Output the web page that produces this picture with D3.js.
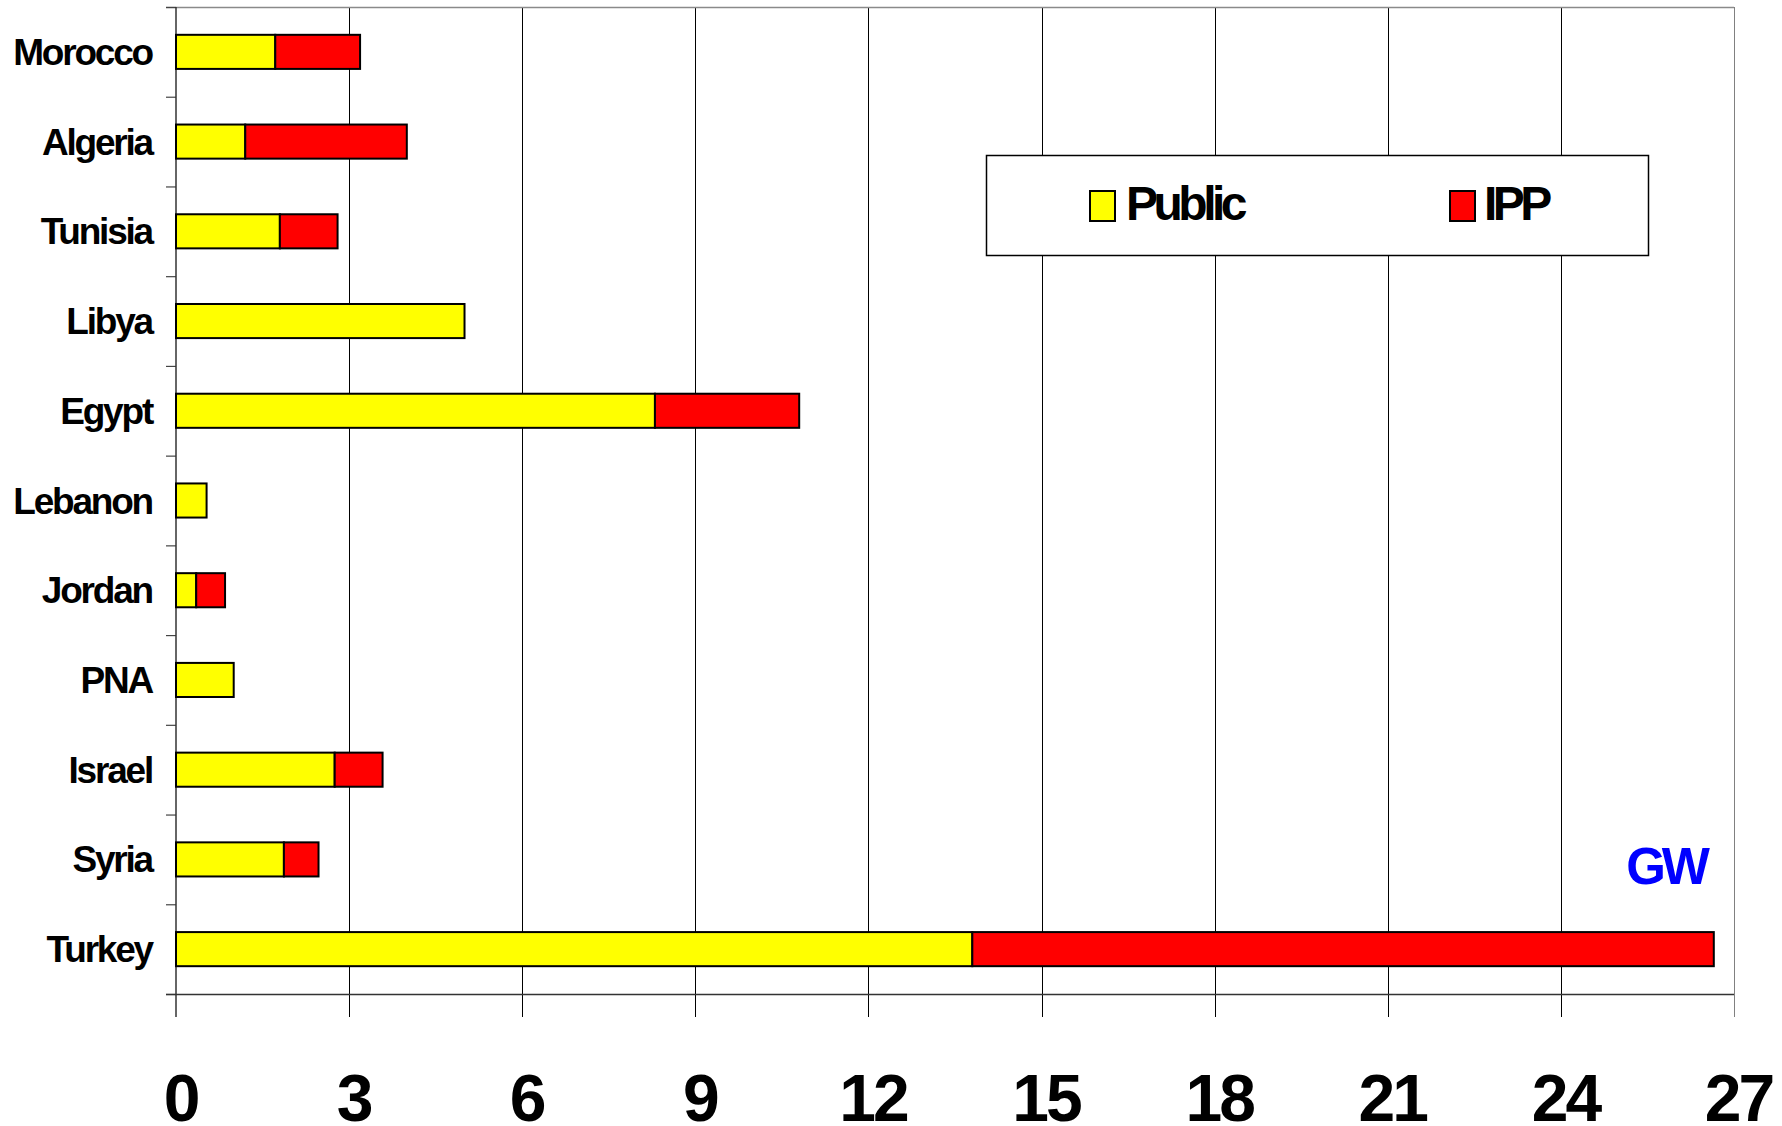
<!DOCTYPE html>
<html>
<head>
<meta charset="utf-8">
<script src="https://cdn.jsdelivr.net/npm/d3@7"></script>
<style>
  html, body { margin: 0; padding: 0; background: #fff; }
  svg { display: block; font-family: "Liberation Sans", Arial, sans-serif; }
</style>
</head>
<body>
<svg id="chart" width="1782" height="1126"></svg>
<script>
// ---- data ----
const countries = ["Morocco", "Algeria", "Tunisia", "Libya", "Egypt", "Lebanon", "Jordan", "PNA", "Israel", "Syria", "Turkey"];
const publicGW = [1.72, 1.2, 1.8, 5.0, 8.3, 0.53, 0.35, 1.0, 2.75, 1.87, 13.8];
const ippGW    = [1.47, 2.8, 1.0, 0.0, 2.5, 0.0, 0.5, 0.0, 0.83, 0.6, 12.85];
const seriesNames = ["Public", "IPP"];
const seriesColors = ["#FFFF00", "#FF0000"];
const xTicks = [0, 3, 6, 9, 12, 15, 18, 21, 24, 27];
const unitLabel = "GW";

// ---- layout ----
const plotLeft = 176, plotRight = 1734, plotTop = 7, plotBottom = 994;
const svg = d3.select("#chart");

const x = d3.scaleLinear().domain([0, 27]).range([plotLeft, plotRight]);
const y = d3.scaleBand().domain(countries).range([plotTop, plotBottom]).paddingInner(0.62).paddingOuter(0.31);
const yIdx = d3.scaleLinear().domain([0, countries.length]).range([plotTop, plotBottom]);

// gridlines (extend below axis as ticks)
svg.append("g").selectAll("line").data(xTicks.filter(d => d > 0)).join("line")
  .attr("x1", d => Math.round(x(d)) + 0.5).attr("x2", d => Math.round(x(d)) + 0.5)
  .attr("y1", plotTop).attr("y2", plotBottom + 23)
  .attr("stroke", d => d === 27 ? "#808080" : "#000").attr("stroke-width", 1);

// top border
svg.append("line").attr("x1", plotLeft - 10).attr("x2", plotRight).attr("y1", plotTop + 0.5).attr("y2", plotTop + 0.5)
  .attr("stroke", "#8a8a8a").attr("stroke-width", 1.5);

// y axis with ticks at category boundaries
const yAxis = svg.append("g").attr("transform", `translate(${plotLeft},0)`)
  .call(d3.axisLeft(yIdx).tickValues(d3.range(0, countries.length + 1)).tickFormat("").tickSize(10).tickSizeOuter(0));
yAxis.select(".domain").remove();
yAxis.selectAll(".tick line").attr("stroke", "#444").attr("stroke-width", 1.2);
svg.append("line").attr("x1", plotLeft).attr("x2", plotLeft).attr("y1", plotTop).attr("y2", plotBottom + 23)
  .attr("stroke", "#333").attr("stroke-width", 1.5);

// x axis line
svg.append("line").attr("x1", plotLeft - 10).attr("x2", plotRight).attr("y1", plotBottom + 0.5).attr("y2", plotBottom + 0.5)
  .attr("stroke", "#333").attr("stroke-width", 1.5);

// x tick labels
const xAxis = svg.append("g").attr("transform", `translate(0,${plotBottom})`)
  .call(d3.axisBottom(x).tickValues(xTicks).tickSize(0).tickPadding(0));
xAxis.select(".domain").remove();
xAxis.selectAll(".tick text")
  .attr("y", 127).attr("dy", 0).attr("dx", 4)
  .attr("fill", "#000")
  .style("font-size", "66px").style("font-weight", "bold")
  .style("font-family", "'Liberation Sans', Arial, sans-serif")
  .style("letter-spacing", "-3px");

// stacked bars
const stackData = countries.map((c, i) => ({ country: c, Public: publicGW[i], IPP: ippGW[i] }));
const stacked = d3.stack().keys(seriesNames)(stackData);
svg.append("g").selectAll("g").data(stacked).join("g")
  .attr("fill", (d, i) => seriesColors[i])
  .selectAll("rect").data(d => d.filter(s => s[1] - s[0] > 0)).join("rect")
  .attr("x", d => x(d[0]))
  .attr("y", d => y(d.data.country))
  .attr("width", d => x(d[1]) - x(d[0]))
  .attr("height", y.bandwidth())
  .attr("stroke", "#000").attr("stroke-width", 2);

// country labels
svg.append("g").selectAll("text").data(countries).join("text")
  .attr("x", 152)
  .attr("y", d => y(d) + y.bandwidth() / 2 + 13)
  .attr("text-anchor", "end")
  .style("font-size", "37px").style("font-weight", "bold")
  .style("letter-spacing", "-2.2px")
  .attr("fill", "#000")
  .text(d => d);

// legend
const lg = svg.append("g");
lg.append("rect").attr("x", 986.5).attr("y", 155.5).attr("width", 662).attr("height", 100)
  .attr("fill", "#fff").attr("stroke", "#000").attr("stroke-width", 1.5);
const legendX = [1090, 1450];
const legendTextOffset = [36, 34];
seriesNames.forEach((name, i) => {
  lg.append("rect").attr("x", legendX[i]).attr("y", 191).attr("width", 25).attr("height", 30)
    .attr("fill", seriesColors[i]).attr("stroke", "#000").attr("stroke-width", 2);
  lg.append("text").attr("x", legendX[i] + legendTextOffset[i]).attr("y", 220)
    .style("font-size", "48px").style("font-weight", "bold").style("letter-spacing", "-4.5px")
    .attr("fill", "#000").text(name);
});

// unit label
svg.append("text").attr("x", 1706).attr("y", 884).attr("text-anchor", "end")
  .style("font-size", "51px").style("font-weight", "bold").style("letter-spacing", "-4px")
  .attr("fill", "#0000FF").text(unitLabel);
</script>
</body>
</html>
